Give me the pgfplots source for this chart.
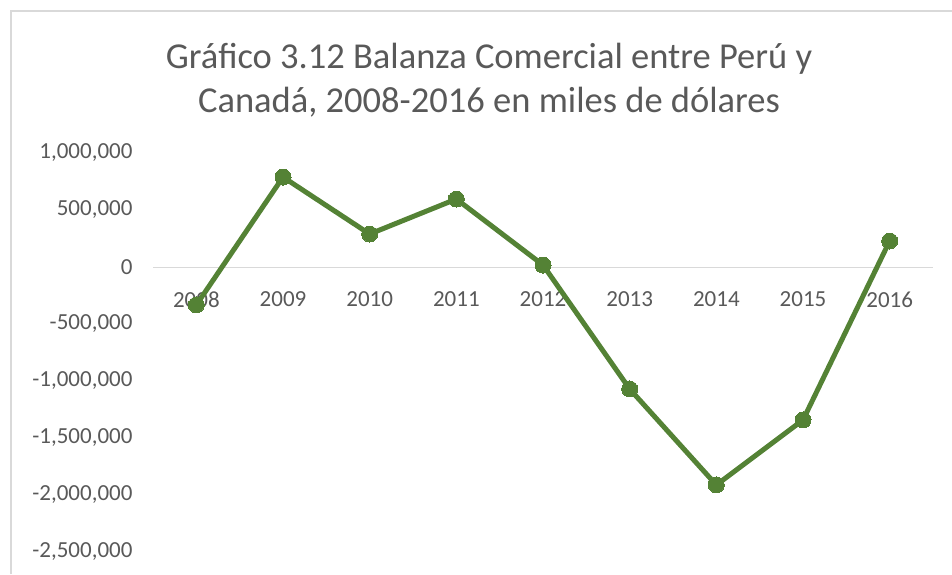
\documentclass[border=0pt]{standalone}
\usepackage{pgfplots}
\pgfplotsset{compat=1.18}
\usepackage{fontspec}
\setmainfont{Carlito}
\definecolor{txt}{HTML}{595959}
\definecolor{grn}{HTML}{548235}
\definecolor{bord}{HTML}{D9D9D9}
\begin{document}
\begin{tikzpicture}[x=1pt,y=1pt]
\useasboundingbox (0,0) rectangle (952,574);
\draw[bord,line width=1.5pt] (11,0) -- (11,563) -- (952,563);
\node[anchor=base,text=txt,font=\fontsize{36.5}{42}\selectfont] at (489,505) {Gráfico 3.12 Balanza Comercial entre Perú y};
\node[anchor=base,text=txt,font=\fontsize{36.5}{42}\selectfont] at (489,461) {Canadá, 2008-2016 en miles de dólares};
\begin{axis}[
  at={(153pt,22pt)}, anchor=south west,
  scale only axis, width=780pt, height=399pt,
  xmin=-0.5, xmax=8.5, ymin=-2500000, ymax=1000000,
  axis x line=middle, axis y line=left,
  x axis line style={-, draw=bord, line width=1pt},
  y axis line style={draw=none},
  major tick length=0pt,
  scaled y ticks=false,
  xtick={0,1,2,3,4,5,6,7,8},
  xticklabels={2008,2009,2010,2011,2012,2013,2014,2015,2016},
  ytick={-2500000,-2000000,-1500000,-1000000,-500000,0,500000,1000000},
  yticklabels={{-2,500,000},{-2,000,000},{-1,500,000},{-1,000,000},{-500,000},{0},{500,000},{1,000,000}},
  ticklabel style={text=txt,font=\fontsize{23}{27}\selectfont},
  xticklabel style={yshift=-21pt},
  yticklabel style={xshift=-17pt},
  clip=false,
]
\addplot[grn, line width=5pt, mark=*, mark size=8pt, mark options={fill=grn,draw=grn,line width=0pt}]
coordinates {(0,-333000) (1,789000) (2,289000) (3,596000) (4,17500) (5,-1070000) (6,-1912000) (7,-1342000) (8,228000)};
\end{axis}
\end{tikzpicture}
\end{document}
